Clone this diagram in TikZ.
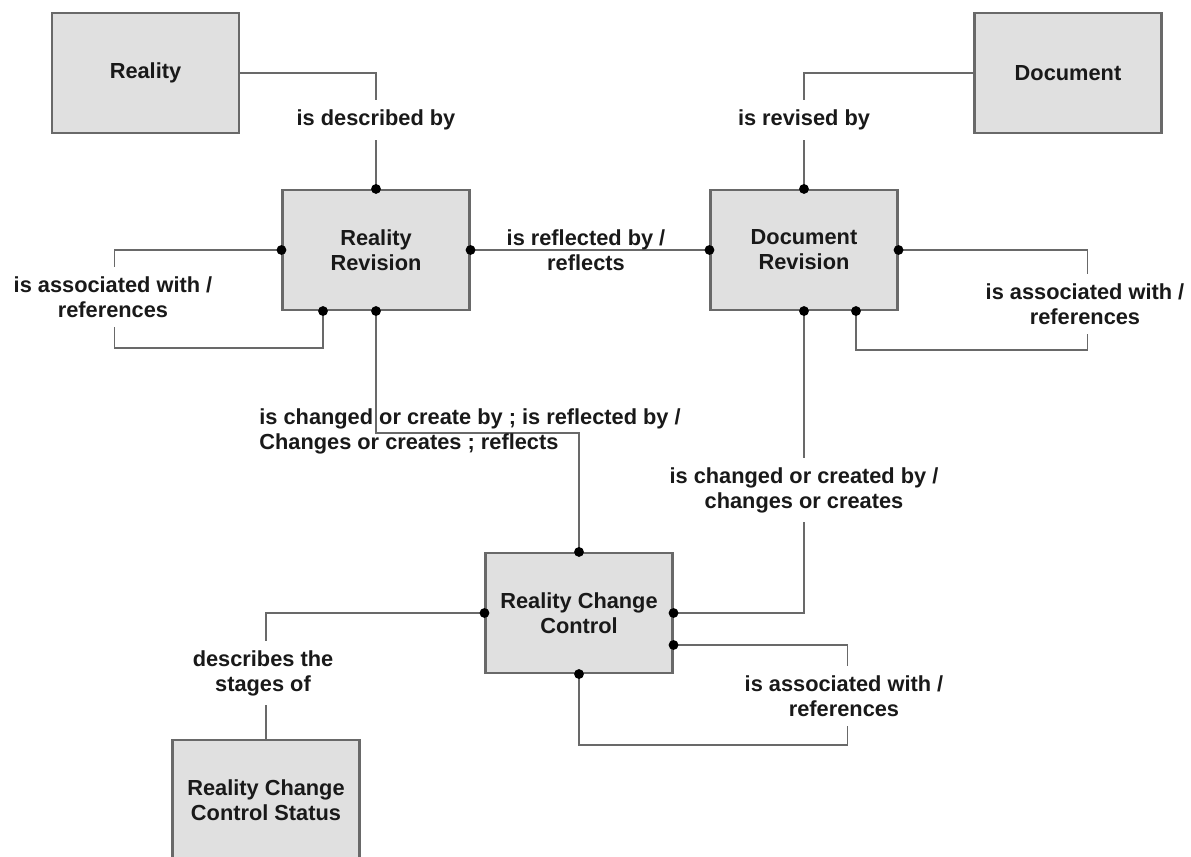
\documentclass[tikz,border=0pt]{standalone}
\usepackage{fontspec}
\setmainfont{Liberation Sans}
\usetikzlibrary{calc}
\definecolor{boxgray}{RGB}{224,224,224}
\definecolor{linegray}{RGB}{105,105,105}
\tikzset{
  entity/.style={draw=linegray, line width=1.2pt, fill=boxgray,
    minimum width=3.74cm, minimum height=2.4cm, align=center,
    font=\bfseries\fontsize{12.4}{14.2}\selectfont, text=black!90},
  link/.style={draw=linegray, line width=0.9pt},
  rel/.style={fill=white, inner xsep=4pt, inner ysep=5.5pt, align=center,
    font=\bfseries\fontsize{12.4}{14.2}\selectfont, text=black!90},
}
\begin{document}
\begin{tikzpicture}[x=0.02cm, y=-0.02cm]
  \useasboundingbox (0,0) rectangle (1191,857);
  \clip (0,0) rectangle (1191,857);
  % Entities
  \node[entity] (reality) at (145.5,73) {Reality};
  \node[entity] (document) at (1068,73) {Document};
  \node[entity] (rr) at (376,250) {Reality\\Revision};
  \node[entity] (dr) at (804,250) {Document\\Revision};
  \node[entity] (rcc) at (579,613) {Reality Change\\Control};
  \node[entity] (rccs) at (266,800) {Reality Change\\Control Status};
  % Extra attachment points
  \coordinate (rrb) at ($(rr.south)+(-53,0)$);
  \coordinate (drb) at ($(dr.south)+(52,0)$);
  \coordinate (rcce) at ($(rcc.east)+(0,32)$);
  % Connectors
  \draw[link] (reality.east) -| (rr.north);
  \draw[link] (document.west) -| (dr.north);
  \draw[link] (rr.east) -- (dr.west);
  \draw[link] (rr.west) -| ++(-167,98) -| (rrb);
  \draw[link] (dr.east) -| ++(189,100) -| (drb);
  \draw[link] (rr.south) -- ++(0,122) -| (rcc.north);
  \draw[link] (dr.south) |- (rcc.east);
  \draw[link] (rcce) -| ++(174,100) -| (rcc.south);
  \draw[link] (rcc.west) -| (rccs.north);
  % Labels
  \node[rel] (ldesc) at (376,120) {is described by};
  \node[rel] (lrev) at (804,120) {is revised by};
  \node[rel, fill=none] (lrefl) at (586,250) {is reflected by /\\reflects};
  \node[rel] (lassrr) at (113,297) {is associated with /\\references};
  \node[rel] (lassdr) at (1085,304) {is associated with /\\references};
  \node[rel, fill=none, anchor=west, align=left] (lchg) at (252,431)
    {is changed or create by ; is reflected by /\\Changes or creates ; reflects};
  \node[rel] (lcre) at (804,490) {is changed or created by /\\changes or creates};
  \node[rel] (lassrcc) at (844,696) {is associated with /\\references};
  \node[rel] (lstage) at (263,673) {describes the\\stages of};
  % Joints
  \fill (rr.north) circle (2.8pt);
  \fill (rr.west) circle (2.8pt);
  \fill (rr.east) circle (2.8pt);
  \fill (rr.south) circle (2.8pt);
  \fill (rrb) circle (2.8pt);
  \fill (dr.north) circle (2.8pt);
  \fill (dr.west) circle (2.8pt);
  \fill (dr.east) circle (2.8pt);
  \fill (dr.south) circle (2.8pt);
  \fill (drb) circle (2.8pt);
  \fill (rcc.north) circle (2.8pt);
  \fill (rcc.west) circle (2.8pt);
  \fill (rcc.east) circle (2.8pt);
  \fill (rcce) circle (2.8pt);
  \fill (rcc.south) circle (2.8pt);
\end{tikzpicture}
\end{document}
